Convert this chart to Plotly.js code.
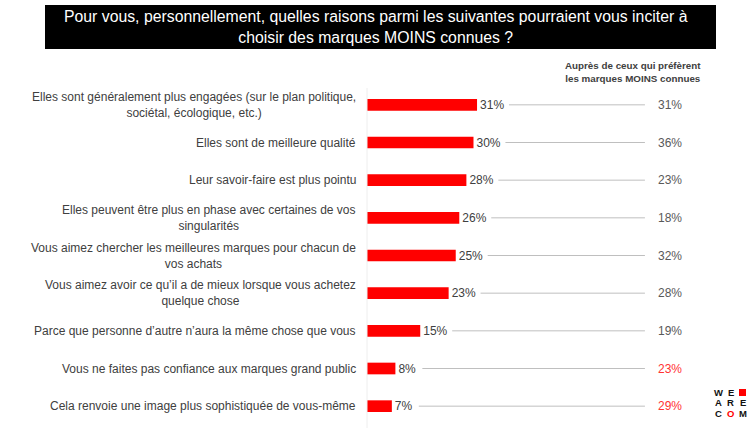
<!DOCTYPE html>
<html>
<head>
<meta charset="utf-8">
<script src="https://cdn.plot.ly/plotly-3.0.1.min.js"></script>
<style>html,body{margin:0;padding:0;background:#fff;}#chart{width:750px;height:431px;}</style>
</head>
<body>
<div id="chart"></div>
<script>
// ---- data ----
const categories = [
  "Elles sont généralement plus engagées (sur le plan politique,<br>sociétal, écologique, etc.)",
  "Elles sont de meilleure qualité",
  "Leur savoir-faire est plus pointu",
  "Elles peuvent être plus en phase avec certaines de vos<br>singularités",
  "Vous aimez chercher les meilleures marques pour chacun de<br>vos achats",
  "Vous aimez avoir ce qu’il a de mieux lorsque vous achetez<br>quelque chose",
  "Parce que personne d’autre n’aura la même chose que vous",
  "Vous ne faites pas confiance aux marques grand public",
  "Cela renvoie une image plus sophistiquée de vous-même"
];
const totalValues = [31, 30, 28, 26, 25, 23, 15, 8, 7];
const moinsValues = [31, 36, 23, 18, 32, 28, 19, 23, 29];
const moinsHighlight = [false, false, false, false, false, false, false, true, true];
const titleText = "Pour vous, personnellement, quelles raisons parmi les suivantes pourraient vous inciter à<br>choisir des marques MOINS connues ?";
const columnHeader = ["Auprès de ceux qui préfèrent", "les marques MOINS connues"];
const logoLetters = [["W", "E", ""], ["A", "R", "E"], ["C", "O", "M"]];
const logoRed = [[false, false, true], [false, false, false], [false, true, false]];

// ---- layout helpers ----
const W = 750, H = 431;
const px = x => x / W;
const py = y => (H - y) / H;
const font = "Liberation Sans, Arial, sans-serif";
const idx = categories.map((_, i) => i);

const trace = {
  type: 'bar',
  orientation: 'h',
  x: totalValues,
  y: idx,
  marker: {color: '#ff0000'},
  width: 0.31,
  text: totalValues.map(v => v + '%'),
  textposition: 'outside',
  constraintext: 'none',
  cliponaxis: false,
  textfont: {family: font, size: 12, color: '#404040'},
  hoverinfo: 'skip'
};

const shapes = [
  {type: 'rect', xref: 'paper', yref: 'paper', x0: px(45), x1: px(716), y0: py(49), y1: py(5),
   fillcolor: '#000', line: {width: 0}},
  {type: 'line', xref: 'paper', yref: 'paper', x0: px(367), x1: px(367),
   y0: py(428), y1: py(88), line: {color: '#eeeeee', width: 1}},
  // logo red square
  {type: 'rect', xref: 'paper', yref: 'paper', x0: px(739), x1: px(746), y0: py(396), y1: py(389),
   fillcolor: '#ff0000', line: {width: 0}}
];
const lineEnd = 78.3;
totalValues.forEach((v, i) => {
  const gap = v >= 10 ? 9.0 : 7.6;
  shapes.push({type: 'line', xref: 'x', yref: 'y', x0: v + gap, x1: lineEnd, y0: i, y1: i,
    line: {color: '#bfbfbf', width: 1}});
});

const annotations = [
  {text: titleText, xref: 'paper', yref: 'paper', x: px(376), y: py(27), xanchor: 'center', yanchor: 'middle',
   showarrow: false, align: 'center', font: {family: font, size: 15.8, color: '#fff'}},
  {text: columnHeader.map(s => '<b>' + s + '</b>').join('<br>'), xref: 'paper', yref: 'paper',
   x: px(633), y: py(72), xanchor: 'center', yanchor: 'middle', showarrow: false, align: 'center',
   font: {family: font, size: 9.8, color: '#404040'}}
];
categories.forEach((c, i) => {
  annotations.push({text: c, xref: 'paper', yref: 'y', x: px(358), y: i, xanchor: 'right', yanchor: 'middle',
    showarrow: false, align: 'center', font: {family: font, size: 12, color: '#404040'}});
  annotations.push({text: moinsValues[i] + '%', xref: 'paper', yref: 'y', x: px(670), y: i,
    xanchor: 'center', yanchor: 'middle', showarrow: false,
    font: {family: font, size: 12, color: moinsHighlight[i] ? '#ff3333' : '#595959'}});
});
logoLetters.forEach((row, r) => {
  row.forEach((ch, c) => {
    if (!ch) return;
    annotations.push({text: '<b>' + ch + '</b>', xref: 'paper', yref: 'paper',
      x: px(718.5 + c * 12), y: py(392.5 + r * 10.3), xanchor: 'center', yanchor: 'middle',
      showarrow: false, font: {family: font, size: 9.5, color: logoRed[r][c] ? '#ff0000' : '#111'}});
  });
});

const layout = {
  width: W, height: H,
  margin: {l: 0, r: 0, t: 0, b: 0},
  paper_bgcolor: '#fff', plot_bgcolor: '#fff',
  showlegend: false,
  xaxis: {domain: [px(367), 1], range: [0, 107.9], showgrid: false, zeroline: false,
          showticklabels: false, ticks: '', fixedrange: true},
  yaxis: {domain: [py(425), py(86)], range: [8.5, -0.5], showgrid: false, zeroline: false,
          showticklabels: false, ticks: '', showline: false, fixedrange: true},
  shapes: shapes,
  annotations: annotations,
  bargap: 0.69
};

Plotly.newPlot('chart', [trace], layout, {displayModeBar: false, staticPlot: true});
</script>
</body>
</html>
